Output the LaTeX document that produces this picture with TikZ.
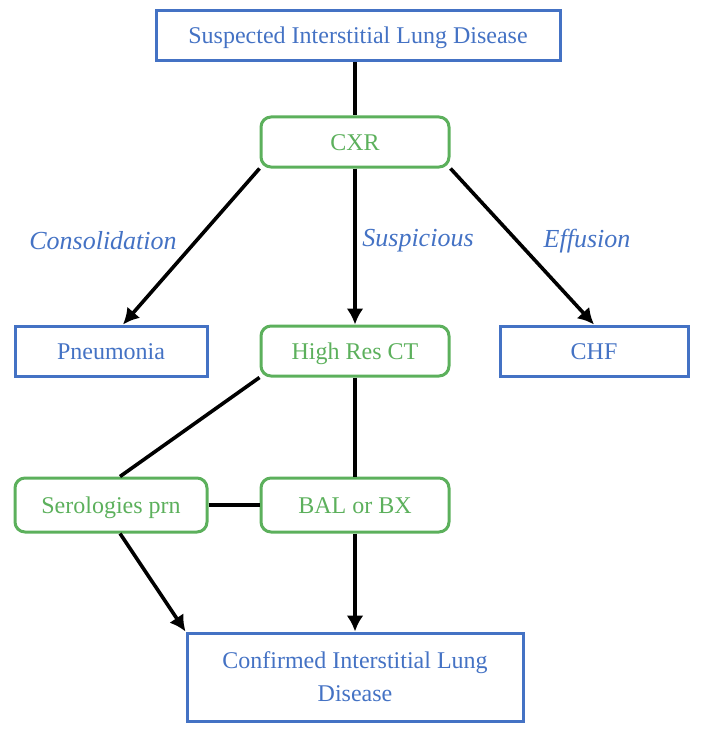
\documentclass[tikz,border=0pt]{standalone}
\usepackage{fontspec}
\setmainfont{Liberation Serif}
\usepackage{tikz}
\usetikzlibrary{calc, arrows, arrows.meta, shapes}
\tikzset{>={Latex[length=8pt, width=8.5pt]}}
\definecolor{ildblue}{RGB}{68, 114, 196}
\definecolor{ildgreen}{RGB}{92, 176, 92}
\tikzset{
  bluebox/.style = {draw = ildblue, line width = 1.5pt, text = ildblue, align = center,
    font = \fontsize{12}{16.5}\selectfont, inner sep = 0pt},
  greenbox/.style = {draw = ildgreen, line width = 1.5pt, text = ildgreen, rounded corners = 5pt,
    align = center, font = \fontsize{12}{16.5}\selectfont, inner sep = 0pt},
  oneline/.style = {text height = 10pt, text depth = 2pt},
  branch/.style = {text = ildblue, font = \fontsize{13}{15}\selectfont\itshape},
  link/.style = {line width = 1.8pt}
}

\begin{document}
\begin{tikzpicture}[x = 0.5pt, y = -0.5pt]
\useasboundingbox (0,0) rectangle (706,738);
\node[bluebox, oneline, minimum width = 202pt, minimum height = 25pt] (suspected) at (358,36) {Suspected Interstitial Lung Disease};
\node[greenbox, oneline, minimum width = 94pt, minimum height = 25pt] (cxr) at (355,142) {CXR};
\node[bluebox, oneline, minimum width = 96pt, minimum height = 25pt] (pneumonia) at (111,351) {Pneumonia};
\node[greenbox, oneline, minimum width = 94pt, minimum height = 25pt] (hrct) at (355,351) {High Res CT};
\node[bluebox, oneline, minimum width = 94pt, minimum height = 25pt] (chf) at (594,351) {CHF};
\node[greenbox, oneline, minimum width = 96pt, minimum height = 27pt] (serologies) at (111,505) {Serologies prn};
\node[greenbox, oneline, minimum width = 94pt, minimum height = 27pt] (bal) at (355,505) {BAL or BX};
\node[bluebox, minimum width = 168pt, minimum height = 44pt] (confirmed) at (355,677) {Confirmed Interstitial Lung\\Disease};
% connectors
\draw[link] (suspected.south -| cxr.north) -- (cxr.north);
\draw[link, ->] (cxr.south west) -- ([xshift = 6pt]pneumonia.north);
\draw[link, ->] (cxr.south) -- (hrct.north);
\draw[link, ->] (cxr.south east) -- (chf.north);
\draw[link] (hrct.south west) -- ([xshift = 4.5pt]serologies.north);
\draw[link] (hrct.south) -- (bal.north);
\draw[link] (serologies.east) -- (bal.west);
\draw[link, ->] ([xshift = 4.5pt]serologies.south) -- (confirmed.north west);
\draw[link, ->] (bal.south) -- (confirmed.north);
% branch labels
\node[branch] (consolidation) at (103,241) {Consolidation};
\node[branch] (suspicious) at (418,241) {Suspicious};
\node[branch] (effusion) at (587,241) {Effusion};
\end{tikzpicture}
\end{document}
